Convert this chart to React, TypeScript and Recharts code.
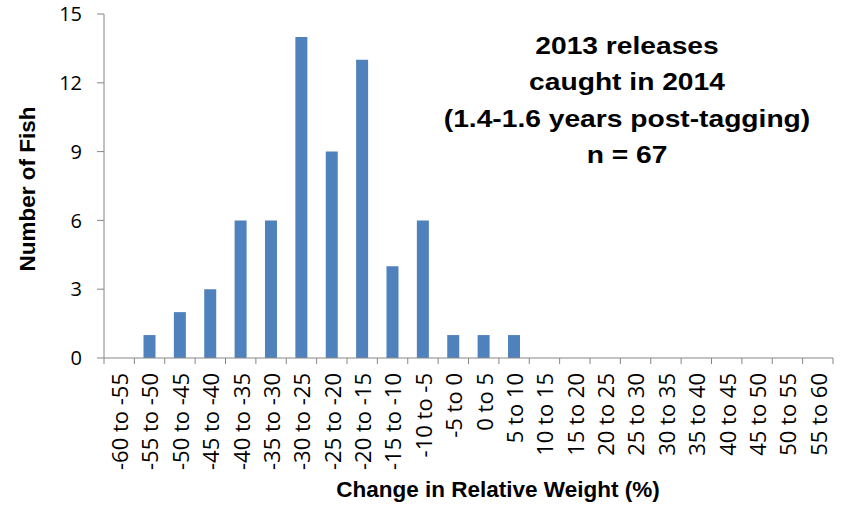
import { BarChart, Bar, XAxis, YAxis } from 'recharts'

const categories = [
  '-60 to -55', '-55 to -50', '-50 to -45', '-45 to -40', '-40 to -35', '-35 to -30',
  '-30 to -25', '-25 to -20', '-20 to -15', '-15 to -10', '-10 to -5', '-5 to 0',
  '0 to 5', '5 to 10', '10 to 15', '15 to 20', '20 to 25', '25 to 30',
  '30 to 35', '35 to 40', '40 to 45', '45 to 50', '50 to 55', '55 to 60',
]

const fishCounts = [0, 1, 2, 3, 6, 6, 14, 9, 13, 4, 6, 1, 1, 1, 0, 0, 0, 0, 0, 0, 0, 0, 0, 0]

const yTicks = [0, 3, 6, 9, 12, 15]

const titleLines = ['2013 releases', 'caught in 2014', '(1.4-1.6 years post-tagging)', 'n = 67']

const data = categories.map((range, i) => ({ range, count: fishCounts[i] }))

const WIDTH = 844
const HEIGHT = 505
const MARGIN = { top: 14, right: 11, bottom: 0, left: 0 }
const Y_AXIS_W = 104
const BAND = (WIDTH - Y_AXIS_W - MARGIN.right - MARGIN.left) / categories.length
const AXIS_GRAY = '#868686'

// Excel-style: tick marks sit between categories, labels read bottom to top
const RangeTick = ({ x, y, payload, index }: any) => {
  const axisY = y - 8
  return (
    <g>
      <line x1={x - BAND / 2} x2={x - BAND / 2} y1={axisY} y2={axisY + 6} stroke={AXIS_GRAY} />
      {index === categories.length - 1 && (
        <line x1={x + BAND / 2} x2={x + BAND / 2} y1={axisY} y2={axisY + 6} stroke={AXIS_GRAY} />
      )}
      <g transform={`translate(${x + 1},${y + 7})`}>
        <text
          transform="rotate(-90)"
          textAnchor="end"
          dy="0.36em"
          fontFamily="'Open Sans', sans-serif"
          fontSize={22}
          fill="#000"
        >
          {payload.value}
        </text>
      </g>
    </g>
  )
}

export default function App() {
  return (
    <div style={{ position: 'absolute', left: 0, top: 0, background: '#fff' }}>
      <BarChart width={WIDTH} height={HEIGHT} data={data} margin={MARGIN} barCategoryGap="30%">
        <XAxis
          dataKey="range"
          interval={0}
          height={147}
          tick={<RangeTick />}
          axisLine={{ stroke: AXIS_GRAY }}
          tickLine={false}
          tickSize={6}
          tickMargin={2}
        />
        <YAxis
          width={Y_AXIS_W}
          domain={[0, 15]}
          ticks={yTicks}
          axisLine={{ stroke: AXIS_GRAY }}
          tickLine={{ stroke: AXIS_GRAY }}
          tickSize={7}
          tickMargin={15}
          tick={{ fill: '#000', fontSize: 20, fontFamily: "'Open Sans', sans-serif" }}
        />
        <Bar dataKey="count" fill="#4f81bd" isAnimationActive={false} />

        {/* axis titles */}
        <text
          transform="translate(35,189) rotate(-90)"
          textAnchor="middle"
          fontFamily="'Liberation Sans', Arial, sans-serif"
          fontWeight="bold"
          fontSize={22.5}
          fill="#000"
        >
          Number of Fish
        </text>
        <text
          x={498}
          y={497}
          textAnchor="middle"
          fontFamily="'Liberation Sans', Arial, sans-serif"
          fontWeight="bold"
          fontSize={22.5}
          fill="#000"
        >
          Change in Relative Weight (%)
        </text>

        {/* chart title, drawn a little wide like the source */}
        <g transform="translate(627,0) scale(1.2,1)">
          <text
            textAnchor="middle"
            fontFamily="'Liberation Sans', Arial, sans-serif"
            fontWeight="bold"
            fontSize={23.5}
            fill="#000"
          >
            {titleLines.map((line, i) => (
              <tspan key={line} x={0} y={54 + i * 36.3}>
                {line}
              </tspan>
            ))}
          </text>
        </g>
      </BarChart>
    </div>
  )
}
